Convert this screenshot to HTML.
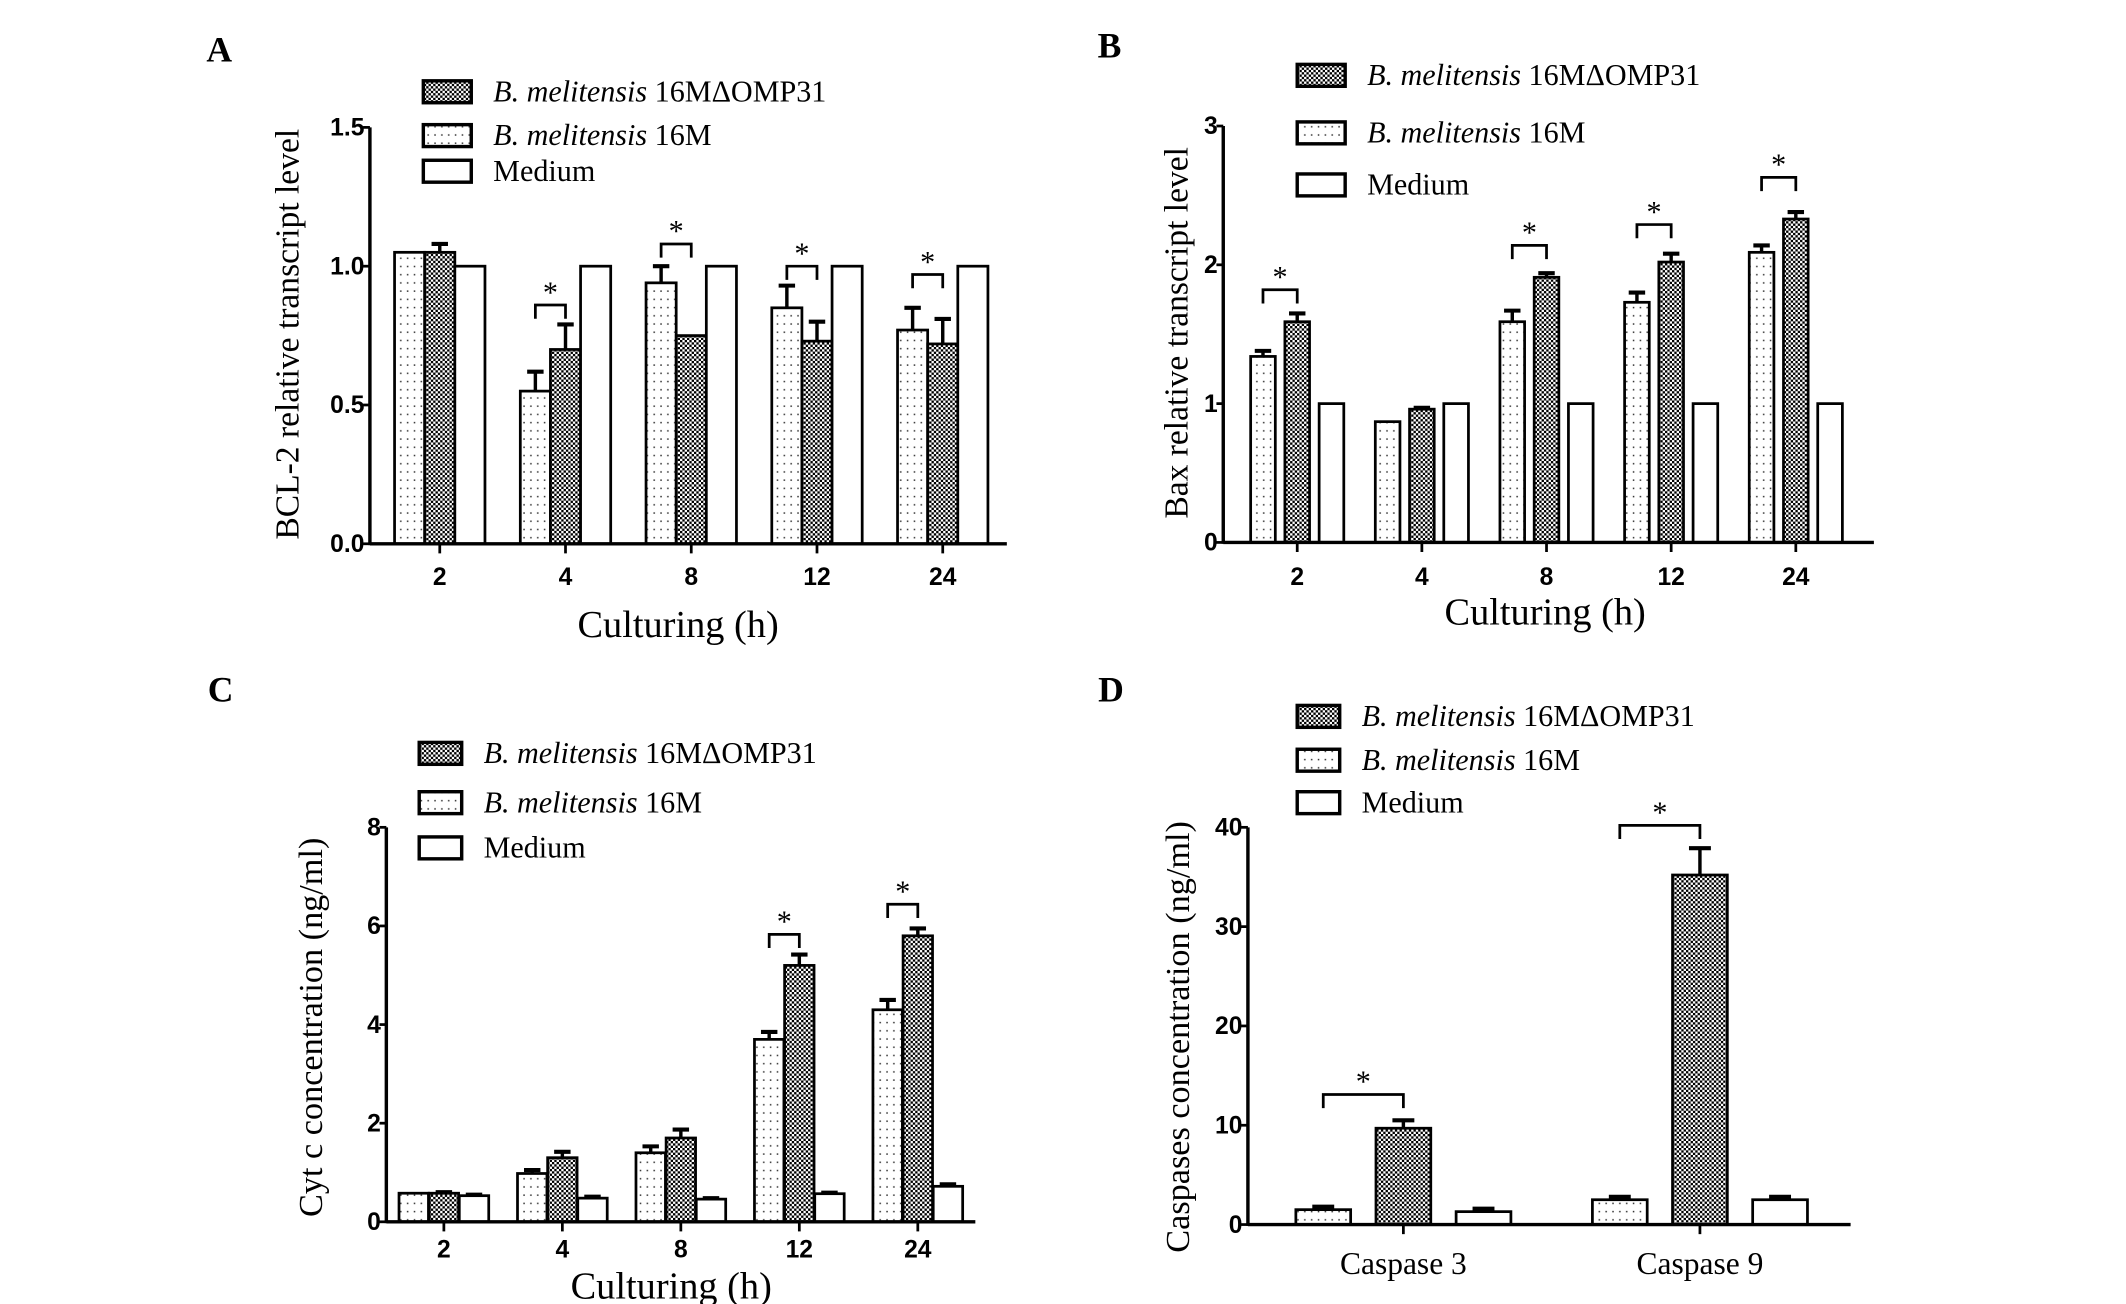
<!DOCTYPE html>
<html><head><meta charset="utf-8"><style>
html,body{margin:0;padding:0;background:#fff}
svg{display:block}
.tk{font-family:"Liberation Sans Narrow","Liberation Sans",sans-serif;font-weight:bold;font-size:18px}
.sr{font-family:"Liberation Serif",serif}
</style></head><body>
<svg id="fig" xmlns="http://www.w3.org/2000/svg" width="2126" height="1304" viewBox="0 0 1552 952">
<defs>
<pattern id="dots" patternUnits="userSpaceOnUse" width="5" height="6"><rect width="5" height="6" fill="#fff"/><rect x="2" y="2" width="1.1" height="1.1" fill="#333"/></pattern>
<pattern id="chk" patternUnits="userSpaceOnUse" width="3.4" height="3.4"><rect width="3.4" height="3.4" fill="#fff"/><rect width="1.7" height="1.7" fill="#000"/><rect x="1.7" y="1.7" width="1.7" height="1.7" fill="#000"/></pattern>
</defs>
</svg>
<script>
// Panel A data
const aCats=["2","4","8","12","24"];
const aWT=[1.05,0.55,0.94,0.85,0.77];
const aWTErr=[0,0.07,0.06,0.08,0.08];
const aMut=[1.05,0.70,0.75,0.73,0.72];
const aMutErr=[0.03,0.09,0,0.07,0.09];
const aMed=[1,1,1,1,1];
const aMedErr=[0,0,0,0,0];
const aTicks=["0.0","0.5","1.0","1.5"];
const aSig=[null,0.86,1.08,1.0,0.97];
// Panel B data
const bCats=["2","4","8","12","24"];
const bWT=[1.34,0.87,1.59,1.73,2.09];
const bWTErr=[0.04,0,0.08,0.07,0.05];
const bMut=[1.59,0.96,1.91,2.02,2.33];
const bMutErr=[0.06,0.01,0.03,0.06,0.05];
const bMed=[1,1,1,1,1];
const bMedErr=[0,0,0,0,0];
const bTicks=["0","1","2","3"];
const bSig=[1.82,null,2.14,2.29,2.63];
// Panel C data
const cCats=["2","4","8","12","24"];
const cWT=[0.58,0.98,1.4,3.7,4.3];
const cWTErr=[0,0.07,0.13,0.15,0.2];
const cMut=[0.58,1.3,1.7,5.2,5.8];
const cMutErr=[0.02,0.12,0.17,0.22,0.15];
const cMed=[0.53,0.48,0.46,0.57,0.72];
const cMedErr=[0.02,0.03,0.02,0.02,0.04];
const cTicks=["0","2","4","6","8"];
const cSig=[null,null,null,5.83,6.44];
// Panel D data
const dCats=["Caspase 3","Caspase 9"];
const dWT=[1.5,2.5];
const dWTErr=[0.3,0.3];
const dMut=[9.7,35.2];
const dMutErr=[0.8,2.7];
const dMed=[1.3,2.5];
const dMedErr=[0.3,0.3];
const dTicks=["0","10","20","30","40"];
const dSig=[13.1,40.2];

const NS="http://www.w3.org/2000/svg";
const fig=document.getElementById('fig');
function mk(tag,attrs,parent,text){const e=document.createElementNS(NS,tag);for(const k in attrs)e.setAttribute(k,attrs[k]);if(text!==undefined)e.textContent=text;(parent||fig).appendChild(e);return e;}

function panel(p){
  const g=mk('g',{});
  
  
  const ymax=parseFloat(p.ticks[p.ticks.length-1]);
  const Y=v=>p.y0-(v/ymax)*(p.y0-p.yTop);
  const X=i=>p.x0+i*p.step;
  const L=mk('text',{x:p.lx,y:p.ly,'font-size':26,'font-weight':'bold','class':'sr','text-anchor':'middle'},g,p.id.toUpperCase());
  
  
  const series=[[p.wt,p.wtE,'url(#dots)','16m'],[p.mut,p.mutE,'url(#chk)','omp31'],[p.med,p.medE,'#fff','medium']];
  series.forEach((s,si)=>{
    s[0].forEach((v,i)=>{
      const cx=X(i)+(si-1)*p.off;
      const top=Y(v);
      const r=mk('rect',{x:cx-p.bw/2,y:top,width:p.bw,height:p.y0-top,fill:s[2],stroke:'#000','stroke-width':2},g);
      
      
      const e=s[1][i];
      if(e>0){
        const et=Y(v+e);
        mk('line',{x1:cx,x2:cx,y1:top,y2:et,stroke:'#000','stroke-width':2.5},g);
        mk('line',{x1:cx-p.cap,x2:cx+p.cap,y1:et,y2:et,stroke:'#000','stroke-width':3},g);
      }
    });
  });
  p.sig.forEach((v,i)=>{
    if(v===null)return;
    const a=X(i)-p.off,b=X(i);const yy=Y(v);
    const br=mk('path',{d:`M${a} ${yy+10}V${yy}H${b}V${yy+10}`,fill:'none',stroke:'#000','stroke-width':2},g);
    
    
    mk('text',{x:(a+b)/2,y:yy-2,'font-size':22,'class':'sr','text-anchor':'middle'},g,'*');
  });
  const ya=mk('line',{x1:p.ax,x2:p.ax,y1:p.yTop,y2:p.y0+1,stroke:'#000','stroke-width':2.5},g);
  
  
  const xa=mk('line',{x1:p.ax,x2:p.xEnd,y1:p.y0,y2:p.y0,stroke:'#000','stroke-width':2.5},g);
  
  
  p.ticks.forEach(t=>{
    const yy=Y(parseFloat(t));
    mk('line',{x1:p.ax-5,x2:p.ax,y1:yy,y2:yy,stroke:'#000','stroke-width':2},g);
    const tl=mk('text',{x:p.ax-4,y:yy+6,'class':'tk','font-size':19,'text-anchor':'end'},g,t);
    
    
  });
  p.cats.forEach((c,i)=>{
    mk('line',{x1:X(i),x2:X(i),y1:p.y0,y2:p.y0+7,stroke:'#000','stroke-width':2},g);
    const tl=mk('text',{x:X(i),y:p.catY,'class':p.catSerif?'sr':'tk','font-size':p.catSerif?23:19,'text-anchor':'middle'},g,c);
    
    
  });
  if(p.xTitle){
    const xt=mk('text',{x:p.xtx,y:p.xty,'font-size':28,'class':'sr','text-anchor':'middle'},g,p.xTitle);
    
    
  }
  const yt=mk('text',{x:0,y:0,'font-size':p.ytSize,'class':'sr','text-anchor':'middle',transform:`translate(${p.ytx},${p.yty}) rotate(-90)`},g,p.yTitle);
  
  
  const leg=[['url(#chk)','16MΔOMP31',true],['url(#dots)','16M',true],['#fff','Medium',false]];
  leg.forEach((l,i)=>{
    const cy=p.legY[i];
    const le=mk('g',{},g);
    
    
    mk('rect',{x:p.legX,y:cy-8,width:p.legW,height:16,fill:l[0],stroke:'#000','stroke-width':2.5},le);
    const t=mk('text',{x:p.legX+p.legW+16,y:cy+7,'font-size':22,'class':'sr'},le);
    if(l[2]){mk('tspan',{'font-style':'italic'},t,'B. melitensis ');mk('tspan',{},t,l[1]);}
    else t.textContent=l[1];
  });
}

panel({id:'a',cats:aCats,wt:aWT,wtE:aWTErr,mut:aMut,mutE:aMutErr,med:aMed,medE:aMedErr,ticks:aTicks,sig:aSig,
  ax:270,xEnd:735,y0:397,yTop:93,x0:321,step:91.8,off:22,bw:22,cap:6,catY:427,
  xTitle:'Culturing (h)',xtx:495,xty:465,yTitle:'BCL-2 relative transcript level',ytSize:24.5,ytx:218,yty:244,
  lx:160,ly:45,legX:309,legW:35,legY:[67,99,125]});
panel({id:'b',cats:bCats,wt:bWT,wtE:bWTErr,mut:bMut,mutE:bMutErr,med:bMed,medE:bMedErr,ticks:bTicks,sig:bSig,
  ax:893,xEnd:1368,y0:396,yTop:92,x0:947,step:91,off:25,bw:18,cap:6,catY:427,
  xTitle:'Culturing (h)',xtx:1128,xty:456,yTitle:'Bax relative transcript level',ytSize:24.5,ytx:867,yty:243,
  lx:810,ly:42,legX:947,legW:35,legY:[55,97,135]});
panel({id:'c',cats:cCats,wt:cWT,wtE:cWTErr,mut:cMut,mutE:cMutErr,med:cMed,medE:cMedErr,ticks:cTicks,sig:cSig,
  ax:282,xEnd:712,y0:892,yTop:604,x0:324,step:86.5,off:22,bw:21.5,cap:6,catY:918,
  xTitle:'Culturing (h)',xtx:490,xty:948,yTitle:'Cyt c concentration  (ng/ml)',ytSize:25,ytx:235,yty:750,
  lx:161,ly:512,legX:306,legW:31,legY:[550,586,619]});
panel({id:'d',cats:dCats,wt:dWT,wtE:dWTErr,mut:dMut,mutE:dMutErr,med:dMed,medE:dMedErr,ticks:dTicks,sig:dSig,
  ax:911,xEnd:1351,y0:894,yTop:604,x0:1024.5,step:216.5,off:58.5,bw:40,cap:8,catY:930,catSerif:true,
  xTitle:null,yTitle:'Caspases concentration  (ng/ml)',ytSize:25,ytx:868,yty:757,
  lx:811,ly:512,legX:947,legW:31,legY:[523,555,586]});
</script>
</body></html>
